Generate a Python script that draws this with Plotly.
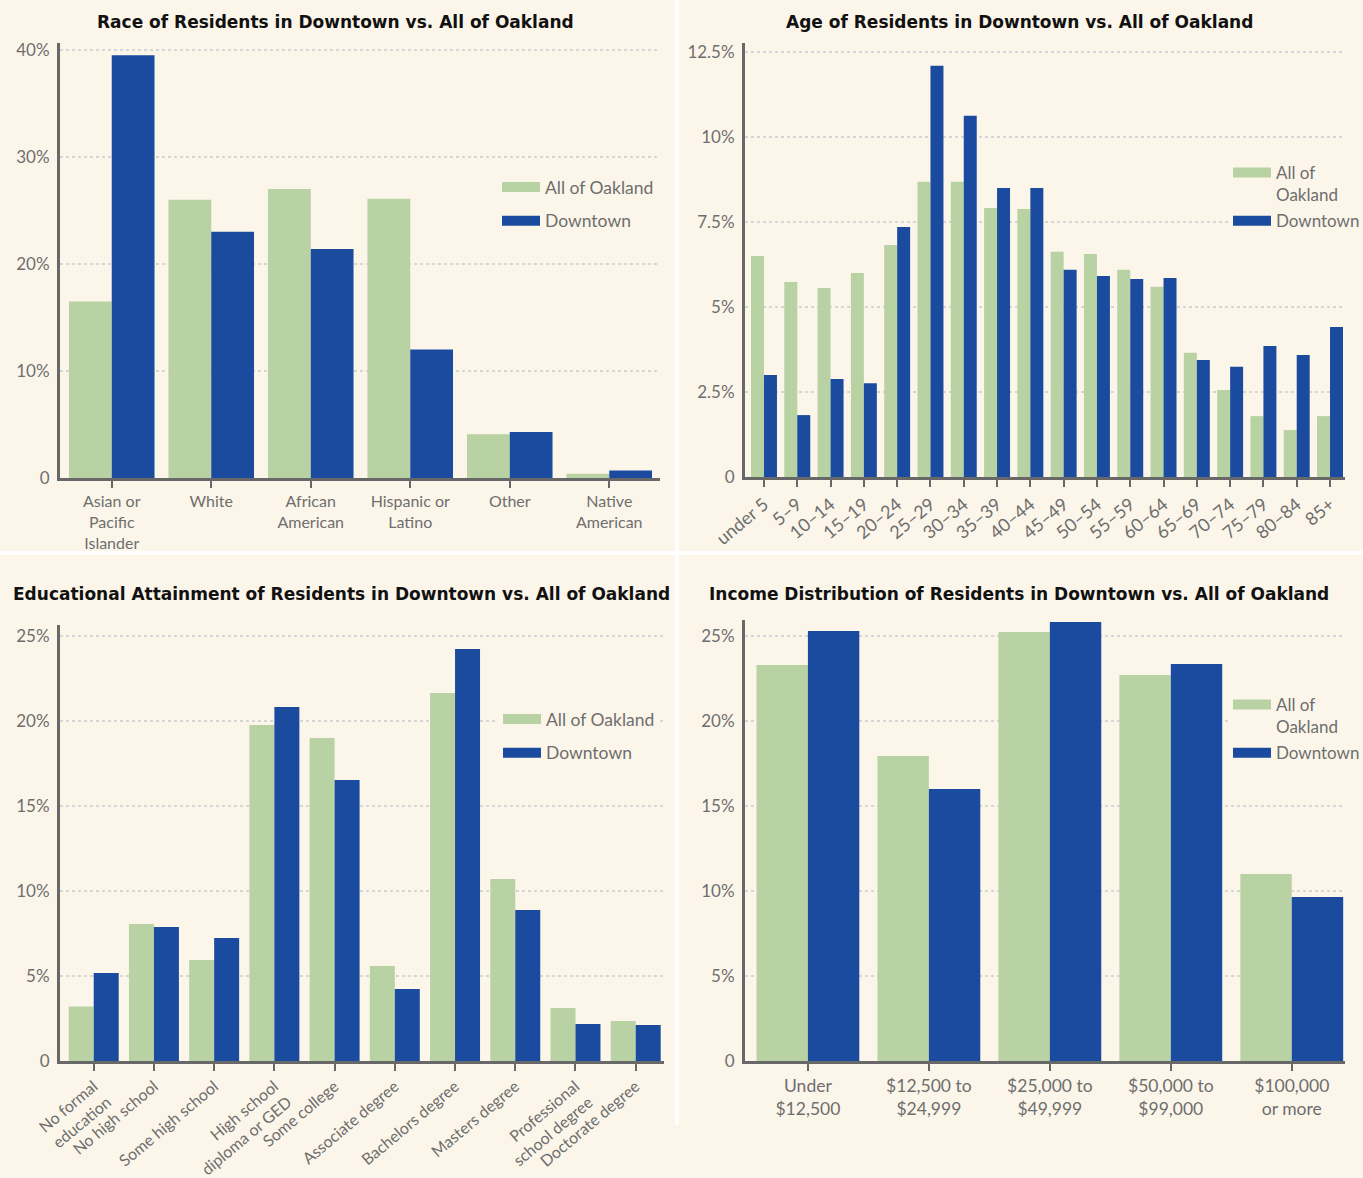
import plotly.graph_objects as go

W, H = 1363, 1178
BG = "#fcf6ea"
GREEN = "#b8d2a4"
BLUE = "#1b4b9f"
AXIS = "#686868"
TICKC = "#6e6e6e"
GRID = "#d6d6d6"

# ---------------- data ----------------
race_cats = ["Asian or<br>Pacific<br>Islander", "White", "African<br>American",
             "Hispanic or<br>Latino", "Other", "Native<br>American"]
race_oak = [16.5, 26.0, 27.0, 26.1, 4.1, 0.4]
race_dt = [39.5, 23.0, 21.4, 12.0, 4.3, 0.7]
race_ticks = [0, 10, 20, 30, 40]
race_ticktext = ["0", "10%", "20%", "30%", "40%"]

age_cats = ["under 5", "5–9", "10–14", "15–19", "20–24", "25–29", "30–34", "35–39",
            "40–44", "45–49", "50–54", "55–59", "60–64", "65–69", "70–74", "75–79",
            "80–84", "85+"]
age_oak = [6.5, 5.73, 5.56, 6.0, 6.82, 8.68, 8.68, 7.91, 7.88, 6.62, 6.56, 6.09,
           5.59, 3.65, 2.56, 1.79, 1.38, 1.79]
age_dt = [3.0, 1.82, 2.88, 2.76, 7.35, 12.09, 10.62, 8.5, 8.5, 6.09, 5.91, 5.82,
          5.85, 3.44, 3.24, 3.85, 3.59, 4.41]
age_ticks = [0, 2.5, 5, 7.5, 10, 12.5]
age_ticktext = ["0", "2.5%", "5%", "7.5%", "10%", "12.5%"]

edu_cats = ["No formal<br>education", "No high school", "Some high school",
            "High school<br>diploma or GED", "Some college", "Associate degree",
            "Bachelors degree", "Masters degree", "Professional<br>school degree",
            "Doctorate degree"]
edu_oak = [3.2, 8.06, 5.94, 19.76, 19.0, 5.59, 21.65, 10.7, 3.12, 2.35]
edu_dt = [5.18, 7.88, 7.24, 20.82, 16.53, 4.24, 24.24, 8.88, 2.18, 2.12]
edu_ticks = [0, 5, 10, 15, 20, 25]
edu_ticktext = ["0", "5%", "10%", "15%", "20%", "25%"]

inc_cats = ["Under<br>$12,500", "$12,500 to<br>$24,999", "$25,000 to<br>$49,999",
            "$50,000 to<br>$99,000", "$100,000<br>or more"]
inc_oak = [23.3, 17.94, 25.24, 22.7, 11.0]
inc_dt = [25.3, 16.0, 25.82, 23.35, 9.65]
inc_ticks = [0, 5, 10, 15, 20, 25]
inc_ticktext = ["0", "5%", "10%", "15%", "20%", "25%"]

titles = ["Race of Residents in Downtown vs. All of Oakland",
          "Age of Residents in Downtown vs. All of Oakland",
          "Educational Attainment of Residents in Downtown vs. All of Oakland",
          "Income Distribution of Residents in Downtown vs. All of Oakland"]

# ---------------- layout helpers ----------------
def px_x(p):
    return p / W

def px_y(p):
    return 1 - p / H

YTICKFONT = dict(family="Lato, sans-serif", size=17, color=TICKC)

fig = go.Figure()

panels = [
    # cats, oak, dt, ticks, ticktext, xdom(px), ydom(px top,bottom), xrange, ymax, barw,
    # tickangle, x tick size, oak label, legend pos, legend gap, legend font size
    (race_cats, race_oak, race_dt, race_ticks, race_ticktext, (60, 660), (43, 478),
     [-0.52, 5.51], 40.65, 0.43, 0, 16, "All of Oakland", (497, 169), 8, 17.5),
    (age_cats, age_oak, age_dt, age_ticks, age_ticktext, (745, 1345), (43, 477),
     [-0.57, 17.45], 12.76, 0.39, -40, 18, "All of<br>Oakland", (1228, 155), 1, 17),
    (edu_cats, edu_oak, edu_dt, edu_ticks, edu_ticktext, (60, 664), (625, 1061),
     [-0.56, 9.47], 25.65, 0.415, -40, 16, "All of Oakland", (498, 701), 8, 17.5),
    (inc_cats, inc_oak, inc_dt, inc_ticks, inc_ticktext, (745, 1345), (620, 1061),
     [-0.52, 4.44], 25.94, 0.425, 0, 17.5, "All of<br>Oakland", (1228, 687), 1, 17),
]

layout = dict()
for i, (cats, oak, dt, ticks, ttext, xd, yd, xr, ymax, bw, ang, xfs, oakname, lpos, lgap, lfs) in enumerate(panels):
    n = "" if i == 0 else str(i + 1)
    xa, ya = "x" + n, "y" + n
    leg = "legend" + n
    fig.add_trace(go.Bar(x=cats, y=oak, marker_color=GREEN, width=bw, offset=-bw,
                         xaxis=xa, yaxis=ya, showlegend=False, hoverinfo="x+y"))
    fig.add_trace(go.Bar(x=cats, y=dt, marker_color=BLUE, width=bw, offset=0,
                         xaxis=xa, yaxis=ya, showlegend=False, hoverinfo="x+y"))
    # legend entries (wide swatches)
    fig.add_trace(go.Scatter(x=[None], y=[None], mode="lines", name=oakname,
                             line=dict(color=GREEN, width=14), xaxis=xa, yaxis=ya,
                             legend=leg, legendgroup="a" + n))
    fig.add_trace(go.Scatter(x=[None], y=[None], mode="lines", name="Downtown",
                             line=dict(color=BLUE, width=14), xaxis=xa, yaxis=ya,
                             legend=leg, legendgroup="b" + n))
    layout["xaxis" + n] = dict(
        domain=[px_x(xd[0]), px_x(xd[1])], anchor=ya, type="category",
        categoryorder="array", categoryarray=cats, automargin=False,
        range=xr, showline=True, linecolor=AXIS, linewidth=3,
        ticks="outside", ticklen=7, tickwidth=2, tickcolor=AXIS,
        tickangle=ang, tickfont=dict(family="Lato, sans-serif", size=xfs, color=TICKC),
        showgrid=False, zeroline=False, fixedrange=True)
    layout["yaxis" + n] = dict(
        domain=[px_y(yd[1]), px_y(yd[0])], anchor=xa, range=[0, ymax],
        automargin=False,
        tickvals=ticks, ticktext=ttext, showline=True, linecolor=AXIS, linewidth=3,
        ticks="", ticklabelstandoff=4, tickfont=YTICKFONT,
        showgrid=True, gridcolor=GRID, griddash="dot", gridwidth=2,
        zeroline=False, fixedrange=True)
    layout[leg] = dict(x=px_x(lpos[0]), y=px_y(lpos[1]), xanchor="left", yanchor="top",
                       bgcolor=BG, font=dict(family="Lato, sans-serif", size=lfs, color=TICKC),
                       tracegroupgap=lgap, valign="top", itemwidth=38, borderwidth=0)

title_pos = [(335, 22, "center"), (1019, 22, "center"), (11, 594, "left"), (1019, 594, "center")]
annotations = []
for t, (tx, ty, al) in zip(titles, title_pos):
    annotations.append(dict(text="<b>" + t + "</b>", x=px_x(tx), y=px_y(ty),
                            xref="paper", yref="paper", xanchor=al, yanchor="middle",
                            showarrow=False,
                            font=dict(family="DejaVu Sans, sans-serif", size=17, color="#111111")))

shapes = [
    dict(type="line", xref="paper", yref="paper", x0=px_x(677), x1=px_x(677),
         y0=px_y(0), y1=px_y(1125), line=dict(color="white", width=4)),
    dict(type="line", xref="paper", yref="paper", x0=0, x1=1,
         y0=px_y(553), y1=px_y(553), line=dict(color="white", width=4)),
]

fig.update_layout(width=W, height=H, autosize=False, template="none",
                  margin=dict(l=0, r=0, t=0, b=0, pad=0, autoexpand=False),
                  paper_bgcolor=BG, plot_bgcolor=BG, barmode="overlay",
                  annotations=annotations, shapes=shapes, **layout)

fig.write_html("out.html", config={"displayModeBar": False},
               post_script="document.body.style.margin='0';document.body.style.overflow='hidden';")
